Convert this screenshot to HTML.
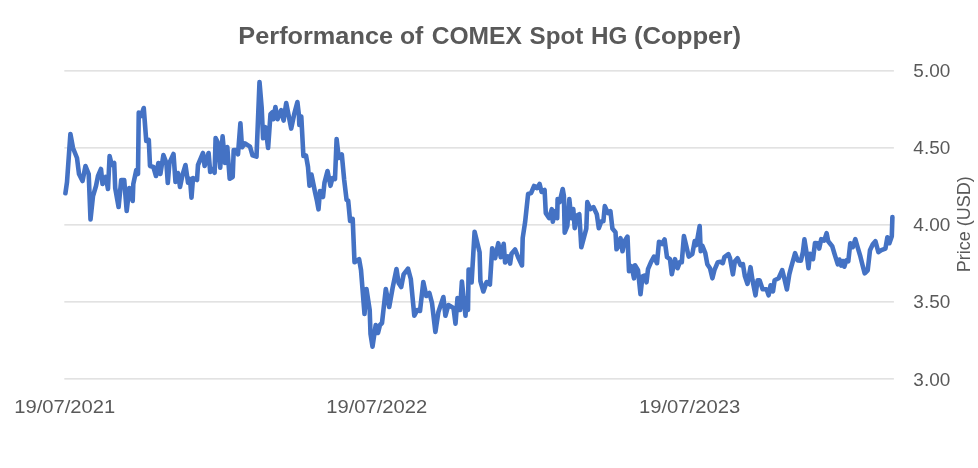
<!DOCTYPE html>
<html><head><meta charset="utf-8"><title>Performance of COMEX Spot HG (Copper)</title>
<style>
html,body{margin:0;padding:0;background:#fff;}
svg{display:block;}
text{font-family:"Liberation Sans",sans-serif;fill:#595959;}
</style></head>
<body>
<svg width="978" height="468" viewBox="0 0 978 468">
<rect width="978" height="468" fill="#ffffff"/>
<g stroke="#d9d9d9" stroke-width="1.2" fill="none">
<line x1="64.3" y1="70.8" x2="893.9" y2="70.8"/>
<line x1="64.3" y1="147.8" x2="893.9" y2="147.8"/>
<line x1="64.3" y1="224.8" x2="893.9" y2="224.8"/>
<line x1="64.3" y1="301.8" x2="893.9" y2="301.8"/>
<line x1="64.3" y1="378.9" x2="893.9" y2="378.9"/>
</g>
<polyline fill="none" stroke="#4472c4" stroke-width="4.6" stroke-linejoin="round" stroke-linecap="round" points="65.4,193.3 67,182.2 70.4,134 73,148 77,158 79,174 82.5,181 85.5,166 88.7,174 90.5,219.4 93,196 96,186 98,176 101,169 102.5,184 105.8,177 108,189 109.6,156 111.8,165 114.2,163 115.2,188 118.6,207 121.2,180 124.2,180 126.7,211 129.3,188 132.7,201 133.3,184 136.3,170 138,174 138.75,112.5 141,116 143.75,108 146.25,141 148.8,140 150,166 153.4,167 156,176 158.4,163 160.4,174 163.4,155 166.4,163 167.8,183 169.4,163 173.5,154 175.5,182 178,173 180,187 182.5,175 185.5,165 188,182.6 190,179 191.5,197.7 193,178 197,180 198,165 203,153 204.6,166 208.6,153 210.2,172 212.6,169 214.6,172.8 215.6,138 217.6,142 220.2,167.8 222.6,136.4 225,163 227.3,147 229.7,178.8 232.7,177 233.7,150 236.7,150 238,154.3 240.4,123.2 242,147.3 245,143.3 250,146.7 252.5,155.3 256.5,156.7 259.5,82 261.7,108 263.1,138.3 265.5,127.2 268.1,148 270.5,114.2 272.5,112.2 273.5,119.2 275.4,107 277.6,119.2 281.2,110.2 283.6,120.6 286.2,103 288.6,115.2 291.2,128.6 294.2,114.2 297.4,102 298.9,115 299.3,125 301.3,116.6 303.4,156 306,155.5 308,167 309.5,185.8 311.5,174.6 315,192 317,201 318.5,209.3 320,191 323,197 324.5,182.6 327.5,171 330.5,185.8 332.5,178 335,179 336.6,139 338.8,158 341.8,154.5 344.2,180 346.6,200 348.2,200.7 350.1,221 352.7,219 354.5,262.2 359.1,259.2 361,270 364.5,314 366.5,289 369.7,310 370.5,334 372.5,346.7 375.7,325 378,333 380,325 382,323 385.8,289 389.2,307 392.6,288 396.5,269 398.6,283 401.2,287 403.6,274.5 408,268.7 410.8,279 414.3,315.8 417.3,310 420,311 423.3,282 426.3,296 429.4,293 432,303 435.4,331.9 438.4,312 443.4,297 445.4,315.8 448.4,305 453.5,308 455.5,323.6 457.5,298 460,310 461.9,281.5 465.5,315.8 466.5,298 468,310 468.6,269.5 470.6,270.3 471.6,282.5 474.6,231.7 479.6,252.2 480.4,281 483.4,291.5 486.6,282 489.9,284.5 492.2,248.2 495.1,258.2 498.3,243.2 500.7,257.2 503.7,243.8 505.1,262.5 508,256.3 510.1,263.6 511.5,253.8 515.1,249.5 518.6,258.3 522,265.4 522.7,238 525.1,222.2 528.1,194 531.1,193 534.1,186 537.1,188 539.6,184 541.6,192 544.6,190 545.8,213.1 549.2,218.2 551.8,209.1 552.8,221.8 555.2,211.1 557.2,218.2 557.6,199.1 559.6,202.1 562.7,189 563.9,196 564.7,232.6 567.3,226.2 569.3,199.1 571.3,218.2 573.3,209.1 574.7,228.2 577.3,215.2 579.3,214.2 581.3,247.3 584.3,236.2 586.3,228.6 587.3,202.1 590.4,209.1 593.4,207.1 596.8,214.2 598.8,228.2 601.4,221.2 603.4,221.2 604.8,206.1 608,213.1 610.4,211.1 612.4,228.6 615.5,232.2 616.5,249.3 618.1,246.3 620.5,238.2 622.5,251.3 624.5,241.3 627.5,236.6 629,271.2 631.6,266.2 634,278.3 635,265.2 638,270.2 640.5,294.3 642.5,276.3 645,275.3 646.5,282.3 648,269.2 651,262.2 654,256.6 657,263.2 659,241.7 662,244 664.6,239.5 667,257.2 670,259.2 671.8,274.3 675,259.2 677.6,268.2 680,261.8 681.8,262.2 683.9,236.1 686.3,246.1 688.7,256.6 692.3,254.2 694.7,241.1 696.3,245.1 699.7,226 700.7,251.2 702.3,245.7 705.3,253.2 707.3,264.2 710,268.2 712.4,278.3 714.4,270.2 717.8,262.2 720.4,261.8 722.8,263.2 724.4,257.2 728.4,254.2 730,258.2 732.9,274.3 734.9,261.2 737.5,258.2 740.5,265.2 742.9,264.2 744.9,276.3 747.5,283.9 750.5,267.2 752.5,280.3 755.5,295.3 757.6,280.3 759.6,280.3 762.6,289.3 766.6,289.3 768.6,295.3 770.6,285.3 773,291.3 774.6,280.3 778.6,278.3 782.2,270.2 784.3,278.3 786.9,289.5 789.3,274.3 790.9,268.2 795.1,253.2 797.7,260.5 800.9,260.7 802.9,252 804.4,239.4 806.6,253.2 808.5,268.2 810,253.8 813,259.2 815,243 818.2,243.2 819.2,248.6 821.2,239.2 824.2,240.6 826.6,233.1 828.2,241.2 832.2,246.2 835.2,256.2 837.8,264.3 839.4,259.5 841.2,265.6 842.8,261 844.3,266.7 846.3,260.3 848.3,261.3 850.3,243.2 852.7,247.2 855.3,239.2 857.3,246.2 860.3,256.2 862.3,264.3 864.7,273.3 867.7,270.3 870,250.2 872.8,244.2 875.4,241.2 878.4,252.2 881.4,250.2 885.4,248.6 887.4,237.2 889.4,243.2 891.8,236.2 892.4,217.1"/>
<g font-size="23.8" font-weight="bold">
<text x="238.37" y="43.8" textLength="154.69" lengthAdjust="spacingAndGlyphs">Performance</text>
<text x="399.96" y="43.8" textLength="23.39" lengthAdjust="spacingAndGlyphs">of</text>
<text x="431.68" y="43.8" textLength="90.22" lengthAdjust="spacingAndGlyphs">COMEX</text>
<text x="529.59" y="43.8" textLength="53.67" lengthAdjust="spacingAndGlyphs">Spot</text>
<text x="591.03" y="43.8" textLength="36.36" lengthAdjust="spacingAndGlyphs">HG</text>
<text x="633.92" y="43.8" textLength="107.06" lengthAdjust="spacingAndGlyphs">(Copper)</text>
</g>
<g font-size="18">
<text x="913.37" y="76.9" textLength="36.91" lengthAdjust="spacingAndGlyphs">5.00</text>
<text x="913.37" y="153.9" textLength="36.91" lengthAdjust="spacingAndGlyphs">4.50</text>
<text x="913.37" y="231.2" textLength="36.91" lengthAdjust="spacingAndGlyphs">4.00</text>
<text x="913.37" y="308.4" textLength="36.91" lengthAdjust="spacingAndGlyphs">3.50</text>
<text x="913.37" y="386" textLength="36.91" lengthAdjust="spacingAndGlyphs">3.00</text>
<text x="14.26" y="413.2" textLength="100.92" lengthAdjust="spacingAndGlyphs">19/07/2021</text>
<text x="326.26" y="413.2" textLength="100.92" lengthAdjust="spacingAndGlyphs">19/07/2022</text>
<text x="638.96" y="413.2" textLength="101.26" lengthAdjust="spacingAndGlyphs">19/07/2023</text>
<text transform="translate(969.8,272.24) rotate(-90)" textLength="95.88" lengthAdjust="spacingAndGlyphs">Price (USD)</text>
</g>
</svg>
</body></html>
